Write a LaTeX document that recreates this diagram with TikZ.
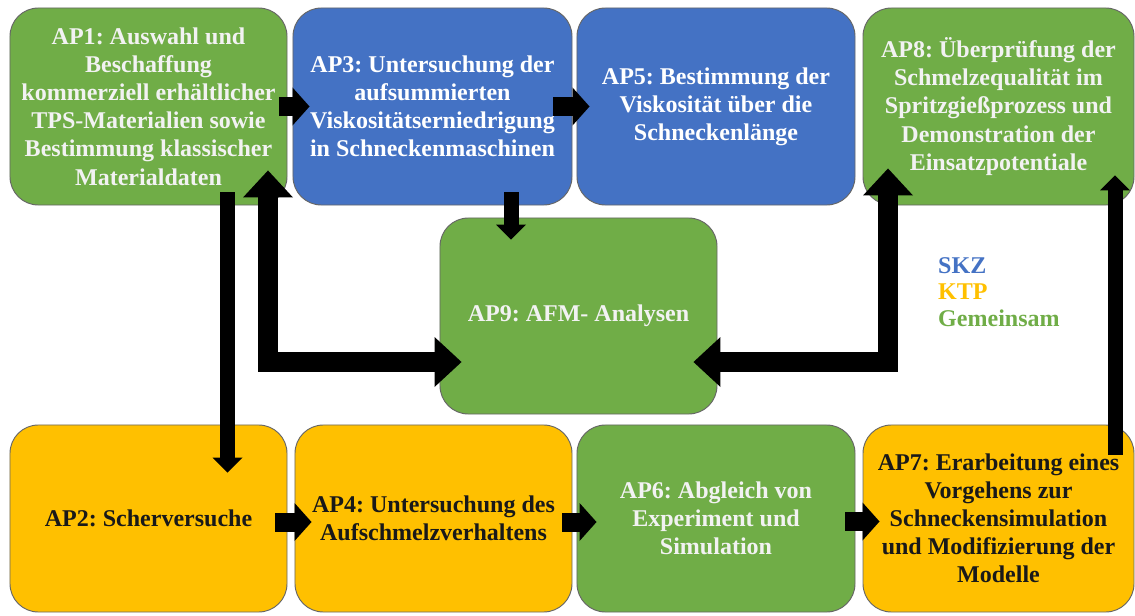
\documentclass[tikz,border=0pt]{standalone}
\usepackage{fontspec}
\setmainfont{Liberation Serif}
\usetikzlibrary{arrows.meta, calc}
\frenchspacing

\definecolor{gruen}{HTML}{70AD47}
\definecolor{blau}{HTML}{4472C4}
\definecolor{gelb}{HTML}{FFC000}

\begin{document}
\begin{tikzpicture}[x=0.03cm, y=-0.03cm,
    ap/.style={draw=black!60, line width=0.8pt, rounded corners=0.85cm, align=center,
        inner sep=0pt, font=\fontsize{20.5}{24}\selectfont\bfseries},
    oben/.style={ap, minimum width=8.31cm, minimum height=5.91cm},
    unten/.style={ap, minimum width=8.31cm, minimum height=5.61cm},
    skz/.style={fill=blau, text=white},
    ktp/.style={fill=gelb, text=black!90},
    gem/.style={fill=gruen, text=white!95!black},
    pfeil/.style={line width=0.45cm, -{Triangle[width=0.9cm,length=0.45cm,line width=0pt]}},
    breit/.style={line width=0.57cm, -{Triangle[width=1.14cm,length=0.51cm,line width=0pt]}},
    gross/.style={line width=0.6cm, line join=miter,
        {Triangle[width=1.5cm,length=0.81cm,line width=0pt]}-{Triangle[width=1.5cm,length=0.81cm,line width=0pt]}}]

    \useasboundingbox (0,0) rectangle (1135,616);

    % obere Reihe
    \node[oben, gem] (ap1) at (148.5,106.5) {AP1: Auswahl und\\Beschaffung\\kommerziell erhältlicher\\TPS-Materialien sowie\\Bestimmung klassischer\\Materialdaten};
    \node[oben, skz, minimum width=8.37cm] (ap3) at (432.5,106.5) {AP3: Untersuchung der\\aufsummierten\\Viskositätserniedrigung\\in Schneckenmaschinen};
    \node[oben, skz, minimum width=8.34cm] (ap5) at (716,106.5) {AP5: Bestimmung der\\Viskosität über die\\Schneckenlänge};
    \node[oben, gem, minimum width=8.13cm] (ap8) at (998.5,106.5) {AP8: Überprüfung der\\Schmelzequalität im\\Spritzgießprozess und\\Demonstration der\\Einsatzpotentiale};

    % Mitte
    \node[ap, gem, minimum width=8.31cm, minimum height=5.88cm] (ap9) at (578.5,316) {AP9: AFM- Analysen};

    % untere Reihe
    \node[unten, ktp] (ap2) at (148.5,518.5) {AP2: Scherversuche};
    \node[unten, ktp] (ap4) at (433.5,518.5) {AP4: Untersuchung des\\Aufschmelzverhaltens};
    \node[unten, gem, minimum width=8.34cm] (ap6) at (716,518.5) {AP6: Abgleich von\\Experiment und\\Simulation};
    \node[unten, ktp, minimum width=8.13cm] (ap7) at (998.5,518.5) {AP7: Erarbeitung eines\\Vorgehens zur\\Schneckensimulation\\und Modifizierung der\\Modelle};

    % Legende
    \node[anchor=west, align=left, inner sep=0pt, font=\fontsize{20.5}{22.6}\selectfont\bfseries] (legende) at (938,292)
        {\textcolor{blau}{SKZ}\\\textcolor{gelb}{KTP}\\\textcolor{gruen}{Gemeinsam}};

    % Pfeile
    \draw[breit] ($(ap1.east)+(-8,0)$) -- ($(ap3.west)+(17,0)$);
    \draw[breit] ($(ap3.east)+(-19,0)$) -- ($(ap5.west)+(13,0)$);
    \draw[pfeil] ($(ap3.south)+(78.5,-13)$) -- ($(ap9.north)+(-67.5,22)$);
    \draw[pfeil] ($(ap1.south)+(79,-13)$) -- ($(ap2.north)+(79,48)$);
    \draw[gross] ($(ap1.south)+(119.5,-35)$) |- ($(ap9.west)+(22,46)$);
    \draw[gross] ($(ap9.east)+(-24,46)$) -| ($(ap8.south)+(-110.5,-37)$);
    \draw[pfeil] ($(ap7.north)+(116.5,30)$) -- ($(ap8.south)+(116.5,-30)$);
    \draw[breit] ($(ap2.east)+(-12,3.5)$) -- ($(ap4.west)+(17,3.5)$);
    \draw[breit] ($(ap4.east)+(-10,3.5)$) -- ($(ap6.west)+(20,3.5)$);
    \draw[breit] ($(ap6.east)+(-10,3)$) -- ($(ap7.west)+(17,3)$);
\end{tikzpicture}
\end{document}
